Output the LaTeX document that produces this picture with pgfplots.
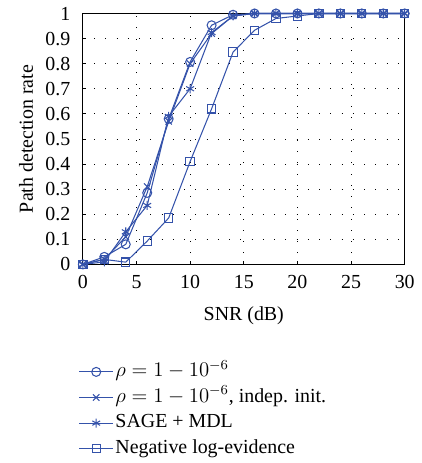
\documentclass[border=0pt,12pt]{standalone}
\usepackage{fontspec}
\setmainfont{Liberation Serif}
\usepackage{pgfplots}
\pgfplotsset{compat=1.18}
\definecolor{pblue}{RGB}{52,82,170}
\begin{document}
\begin{tikzpicture}
\begin{axis}[
  width=186pt, height=145pt, scale only axis,
  xmin=0, xmax=30, ymin=0, ymax=1,
  xtick={0,5,...,30},
  ytick={0,0.1,...,1},
  yticklabel style={/pgf/number format/fixed,/pgf/number format/precision=1, xshift=-3pt},
  xticklabel style={yshift=-2.3pt},
  /pgf/number format/assume math mode=true,
  tick label style={font=\fontsize{11.5}{13}\selectfont},
  label style={font=\fontsize{11.5}{13}\selectfont},
  grid=major,
  major grid style={black, line width=0.5pt, dash pattern=on 0.5pt off 6pt},
  tick align=inside, tick pos=left, major tick length=2pt,
  tick style={black, line width=0.5pt},
  axis line style={black, line width=0.6pt},
  xlabel={SNR (dB)}, ylabel={Path detection rate},
  xlabel style={yshift=-2pt}, ylabel style={yshift=-1pt},
  every axis plot/.append style={pblue, line width=0.6pt},
  legend style={at={(-0.03,-0.37)}, anchor=north west, draw=none, fill=none,
    row sep=2.3pt, legend cell align=left, font=\fontsize{11.5}{13}\selectfont,
    nodes={inner sep=1pt, text height=8pt, text depth=2.5pt}},
  legend image code/.code={
    \draw[mark repeat=2,mark phase=2] plot coordinates {(0cm,0cm) (0.345cm,0cm) (0.69cm,0cm)};},
  legend image post style={pblue},
  clip=false,
]
\addplot[mark=o, mark size=2.6pt, mark options={solid}] coordinates {
(0,0)(2,0.03)(4,0.08)(6,0.285)(8,0.58)(10,0.807)(12,0.953)(14,0.995)(16,1)(18,1)(20,1)(22,1)(24,1)(26,1)(28,1)(30,1)};
\addplot[mark=x, mark size=2.6pt] coordinates {
(0,0)(2,0.02)(4,0.11)(6,0.31)(8,0.57)(10,0.80)(12,0.92)(14,0.99)(16,1)(18,1)(20,1)(22,1)(24,1)(26,1)(28,1)(30,1)};
\addplot[mark=asterisk, mark size=2.6pt] coordinates {
(0,0)(2,0.01)(4,0.13)(6,0.235)(8,0.59)(10,0.70)(12,0.924)(14,0.99)(16,1)(18,1)(20,1)(22,1)(24,1)(26,1)(28,1)(30,1)};
\addplot[mark=square, mark size=2.4pt] coordinates {
(0,0)(2,0.02)(4,0.009)(6,0.093)(8,0.185)(10,0.41)(12,0.62)(14,0.846)(16,0.933)(18,0.98)(20,0.99)(22,1)(24,1)(26,1)(28,1)(30,1)};
\legend{$\rho = 1 - 10^{-6}$, {$\rho = 1 - 10^{-6}$, indep. init.}, SAGE + MDL, Negative log-evidence}
\end{axis}
\path (current axis.outer west) ++(-7pt,0) coordinate (padw);
\end{tikzpicture}
\end{document}
